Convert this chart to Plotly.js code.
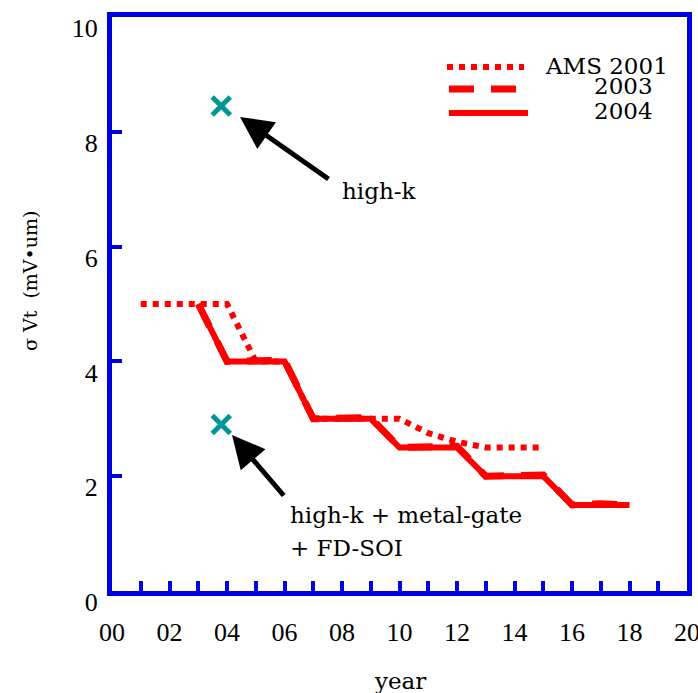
<!DOCTYPE html>
<html>
<head>
<meta charset="utf-8">
<script src="https://cdn.plot.ly/plotly-3.0.1.min.js"></script>
<style>html,body{margin:0;padding:0;background:#fff;}#chart{width:698px;height:693px;}</style>
</head>
<body>
<div id="chart"></div>
<script>
// ---- data ----
var ams2001X = [1, 4, 5, 6, 7, 10, 11, 12, 13, 15];
var ams2001Y = [5, 5, 4, 4, 3, 3, 2.75, 2.6, 2.5, 2.5];
var y2003X = [3, 4, 6, 7, 9, 10, 12, 13, 15, 16, 17, 17.4, 18];
var y2003Y = [5, 4, 4.02, 3, 3.02, 2.5, 2.52, 2, 2.02, 1.5, 1.52, 1.52, 1.5];
var y2004X = [3, 4, 6, 7, 9, 10, 12, 13, 15, 16, 18];
var y2004Y = [5, 4, 4, 3, 3, 2.5, 2.5, 2, 2, 1.5, 1.5];
var highkX = [3.8];
var highkY = [8.45];
var highkMgX = [3.8];
var highkMgY = [2.9];
var seriesNames = ['AMS 2001', '2003', '2004'];
var xTickVals = [0,1,2,3,4,5,6,7,8,9,10,11,12,13,14,15,16,17,18,19,20];
var xTickText = ['00','','02','','04','','06','','08','','10','','12','','14','','16','','18','','20'];
var yTickVals = [0, 2, 4, 6, 8, 10];
var yTickText = ['0', '2', '4', '6', '8', '10'];

var BLUE = 'rgb(0,0,220)';
var RED = 'rgb(255,0,0)';
var TEAL = 'rgb(0,150,150)';
var FONT = "'DejaVu Serif', 'Liberation Serif', serif";
var TICKFONT = "'Liberation Serif', 'Times New Roman', serif";

var traces = [
  {x: ams2001X, y: ams2001Y, mode: 'lines', name: seriesNames[0],
   line: {color: RED, width: 6, dash: 'dot'}},
  {x: y2003X, y: y2003Y, mode: 'lines', name: seriesNames[1],
   line: {color: RED, width: 7, dash: '25px,17px'}},
  {x: y2004X, y: y2004Y, mode: 'lines', name: seriesNames[2],
   line: {color: RED, width: 6}},
  {x: highkX, y: highkY, mode: 'markers', name: 'high-k',
   marker: {symbol: 'x-thin-open', size: 18, color: TEAL, line: {color: TEAL, width: 5}}},
  {x: highkMgX, y: highkMgY, mode: 'markers', name: 'high-k + metal-gate + FD-SOI',
   marker: {symbol: 'x-thin-open', size: 18, color: TEAL, line: {color: TEAL, width: 5}}}
];

var L = 112, R = 687, T = 17, B = 591;
function px(xp){ return (xp - L) / (R - L); }
function py(yp){ return (B - yp) / (B - T); }

var layout = {
  width: 698, height: 693,
  margin: {l: L, r: 698 - R, t: T, b: 693 - B, pad: 0},
  paper_bgcolor: '#fff', plot_bgcolor: '#fff',
  showlegend: false,
  font: {family: FONT},
  xaxis: {
    range: [0, 20], showgrid: false, zeroline: false,
    showline: true, mirror: true, linecolor: BLUE, linewidth: 5,
    ticks: 'inside', ticklen: 10, tickwidth: 4, tickcolor: BLUE,
    tickmode: 'array', tickvals: xTickVals, ticktext: xTickText,
    tickfont: {family: TICKFONT, size: 26, color: '#000'},
    ticklabelstandoff: 14, ticklabeloverflow: 'allow'
  },
  yaxis: {
    range: [0, 10], showgrid: false, zeroline: false,
    showline: true, mirror: true, linecolor: BLUE, linewidth: 5,
    ticks: 'inside', ticklen: 10, tickwidth: 4, tickcolor: BLUE,
    tickmode: 'array', tickvals: yTickVals, ticktext: yTickText,
    tickfont: {family: TICKFONT, size: 26, color: '#000'},
    ticklabelshift: 11, ticklabelstandoff: 4, ticklabeloverflow: 'allow'
  },
  shapes: [
    {type: 'line', xref: 'paper', yref: 'paper', x0: px(447), x1: px(524), y0: py(67), y1: py(67),
     line: {color: RED, width: 6, dash: 'dot'}},
    {type: 'line', xref: 'paper', yref: 'paper', x0: px(449), x1: px(516), y0: py(89), y1: py(89),
     line: {color: RED, width: 7, dash: '25px,17px'}},
    {type: 'line', xref: 'paper', yref: 'paper', x0: px(449), x1: px(528), y0: py(113), y1: py(113),
     line: {color: RED, width: 6}}
  ],
  annotations: [
    {xref: 'paper', yref: 'paper', x: px(670), y: py(66), xanchor: 'right', yanchor: 'middle',
     text: seriesNames[0], showarrow: false, font: {family: FONT, size: 23, color: '#000'}},
    {xref: 'paper', yref: 'paper', x: px(655), y: py(86), xanchor: 'right', yanchor: 'middle',
     text: seriesNames[1], showarrow: false, font: {family: FONT, size: 23, color: '#000'}},
    {xref: 'paper', yref: 'paper', x: px(655), y: py(111), xanchor: 'right', yanchor: 'middle',
     text: seriesNames[2], showarrow: false, font: {family: FONT, size: 23, color: '#000'}},
    // arrows
    {xref: 'paper', yref: 'paper', x: px(240), y: py(117), text: '', showarrow: true,
     ax: 90, ay: 63, arrowhead: 2, arrowsize: 1.3, arrowwidth: 5, arrowcolor: '#000'},
    {xref: 'paper', yref: 'paper', x: px(232), y: py(435), text: '', showarrow: true,
     ax: 53, ay: 62, arrowhead: 2, arrowsize: 1.3, arrowwidth: 5, arrowcolor: '#000'},
    // labels
    {xref: 'paper', yref: 'paper', x: px(340), y: py(191), xanchor: 'left', yanchor: 'middle',
     text: 'high-k', showarrow: false, font: {family: FONT, size: 23, color: '#000'}},
    {xref: 'paper', yref: 'paper', x: px(288), y: py(515), xanchor: 'left', yanchor: 'middle',
     text: 'high-k + metal-gate', showarrow: false, font: {family: FONT, size: 23, color: '#000'}},
    {xref: 'paper', yref: 'paper', x: px(288), y: py(548), xanchor: 'left', yanchor: 'middle',
     text: '+ FD-SOI', showarrow: false, font: {family: FONT, size: 23, color: '#000'}},
    // axis titles
    {xref: 'paper', yref: 'paper', x: px(400), y: py(681), xanchor: 'center', yanchor: 'middle',
     text: 'year', showarrow: false, font: {family: FONT, size: 23, color: '#000'}},
    {xref: 'paper', yref: 'paper', x: px(30), y: py(281), xanchor: 'center', yanchor: 'middle',
     text: 'σ Vt  (mV•um)', textangle: -90, showarrow: false, font: {family: FONT, size: 19, color: '#000'}}
  ]
};

Plotly.newPlot('chart', traces, layout, {displayModeBar: false, staticPlot: true});
</script>
</body>
</html>
